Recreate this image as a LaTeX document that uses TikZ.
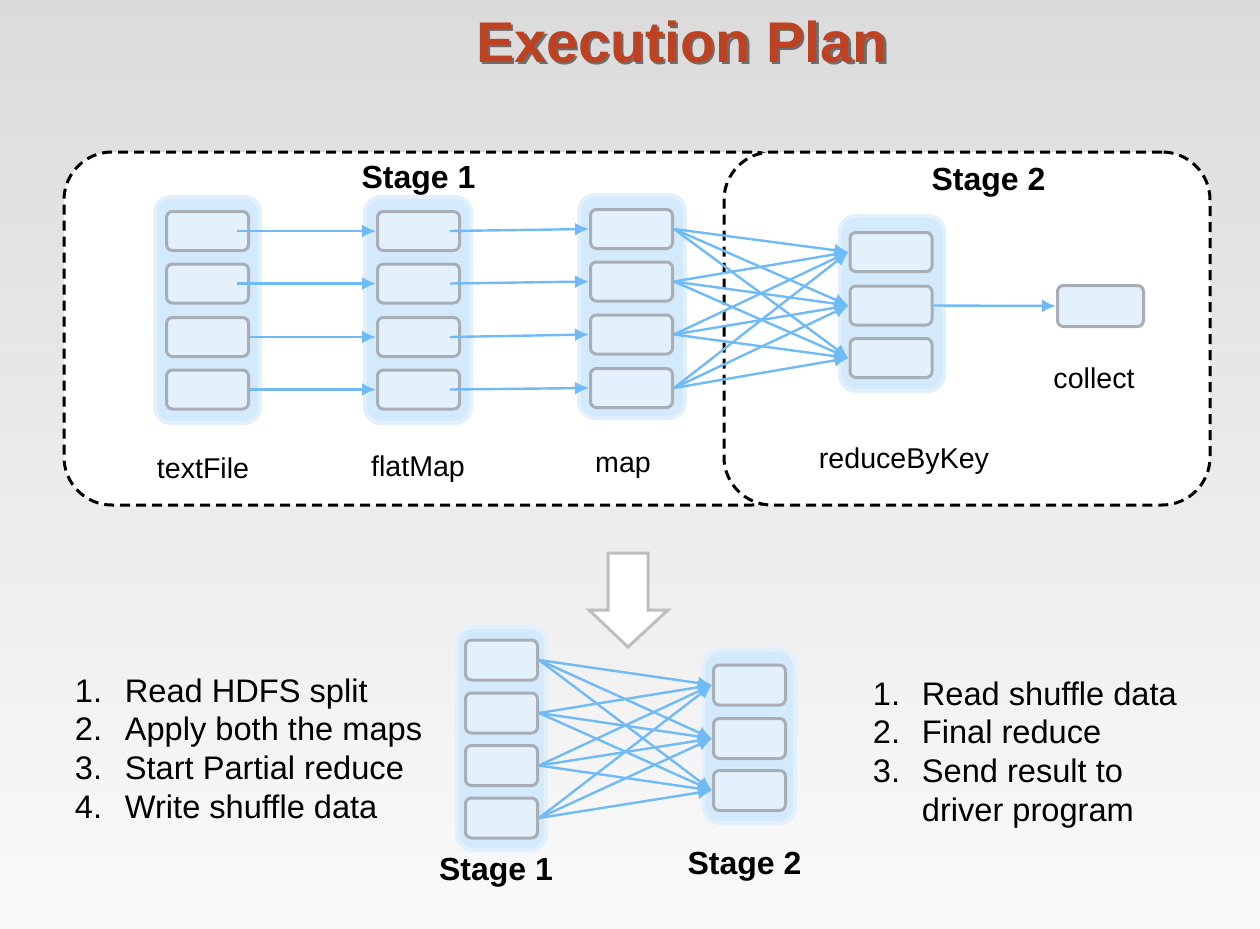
\documentclass[tikz,border=0pt]{standalone}
\usepackage{fontspec}
\setmainfont{Liberation Sans}
\usetikzlibrary{positioning,shapes,arrows.meta,calc}
\definecolor{bgtop}{RGB}{219,219,219}
\definecolor{bgbot}{RGB}{250,250,250}
\definecolor{titlered}{RGB}{190,65,33}
\definecolor{cellgray}{RGB}{168,174,180}
\definecolor{cellblue}{RGB}{227,241,253}
\definecolor{laneblue}{RGB}{211,233,252}
\definecolor{laneedge}{RGB}{226,240,253}
\definecolor{flowblue}{RGB}{112,186,246}
\definecolor{bigarrowgray}{RGB}{190,190,190}
\tikzstyle{cell} = [draw=cellgray, fill=cellblue, line width=1.5pt,
    rounded corners=3pt, minimum width=41pt, minimum height=19.5pt, inner sep=0pt]
\tikzstyle{smallcell} = [cell, minimum width=36pt, minimum height=20pt]
\tikzstyle{lane} = [draw=laneedge, fill=laneblue, line width=2pt,
    rounded corners=8pt, inner sep=0pt]
\tikzstyle{stagebox} = [draw=black, fill=white, line width=1.5pt,
    dash pattern=on 5pt off 3pt, rounded corners=24pt, inner sep=0pt]
\tikzstyle{flow} = [draw=flowblue, line width=1.2pt, -{Latex[length=7pt,width=6.5pt]}]
\tikzstyle{opname} = [font=\fontsize{14.3}{17}\selectfont, inner sep=0pt, anchor=base]
\tikzstyle{stagename} = [font=\fontsize{16}{19}\selectfont\bfseries, inner sep=0pt, anchor=base]
\tikzstyle{steps} = [font=\fontsize{16.3}{19.4}\selectfont, inner sep=0pt, anchor=base west]

\begin{document}
\begin{tikzpicture}[x=0.5pt, y=-0.5pt]
% background
\shade[top color=bgtop, bottom color=bgbot] (0,0) rectangle (1260,928);

% title
\node[font=\fontsize{28.7}{32}\selectfont\bfseries, text=black, opacity=0.5,
    inner sep=0pt, anchor=base] (titleshadow) at (684.5,64.5) {Execution Plan};
\node[font=\fontsize{28.7}{32}\selectfont\bfseries, text=titlered,
    inner sep=0pt, anchor=base] (title) at (682,62) {Execution Plan};

% stage frames
\node[stagebox, minimum width=368pt, minimum height=176.5pt] (stageone) at (432,328.5) {};
\node[stagebox, minimum width=243pt, minimum height=176.5pt] (stagetwo) at (967,328.5) {};
\node[stagename] (stageonename) at (418.5,188) {Stage 1};
\node[stagename] (stagetwoname) at (988.5,190) {Stage 2};

% lanes
\node[lane, minimum width=52.5pt, minimum height=113pt] (tflane) at (207.5,310) {};
\node[lane, minimum width=53pt, minimum height=113pt] (fmlane) at (418,310) {};
\node[lane, minimum width=53pt, minimum height=111.5pt] (mplane) at (632,306.5) {};
\node[lane, minimum width=52pt, minimum height=87.5pt] (rklane) at (892,303.5) {};

% partitions
\foreach \n/\y in {1/231,2/283.5,3/337,4/389.5} {
    \node[cell] (tf\n) at (207.5,\y) {};
    \node[cell] (fm\n) at (418.5,\y) {};
}
\foreach \n/\y in {1/229,2/281.5,3/334.5,4/388}
    \node[cell] (mp\n) at (631.5,\y) {};
\foreach \n/\y in {1/252,2/305.5,3/358}
    \node[cell] (rk\n) at (891,\y) {};
\node[cell, minimum width=43pt, minimum height=20.5pt] (cl) at (1100.5,306) {};

% dependencies
\draw[flow] ([xshift=-6.5pt]tf1.east) -- (fm1.west);
\draw[flow] ([xshift=-6.5pt]tf2.east) -- (fm2.west);
\draw[flow] (tf3.east) -- (fm3.west);
\draw[flow] (tf4.east) -- (fm4.west);
\foreach \n in {1,...,4}
    \draw[flow] ([xshift=-5.5pt]fm\n.east) -- (mp\n.west);
\foreach \m in {1,...,4}
    \foreach \r in {1,2,3}
        \draw[flow] (mp\m.east) -- (rk\r.west);
\draw[flow] (rk2.east) -- (cl.west);

% operation names
\node[opname] (tfname) at (203,478) {textFile};
\node[opname] (fmname) at (418,476) {flatMap};
\node[opname] (mpname) at (623,472) {map};
\node[opname] (rkname) at (904,468) {reduceByKey};
\node[opname] (clname) at (1094,388) {collect};

% big arrow
\draw[draw=bigarrowgray, fill=white, line width=1.5pt, line join=miter]
    (608,553) -- (648,553) -- (648,610) -- (668,610) -- (628,647)
    -- (589,610) -- (608,610) -- cycle;

% compact plan
\node[lane, minimum width=44.5pt, minimum height=111.5pt] (sonelane) at (501.5,738.5) {};
\node[lane, minimum width=45.5pt, minimum height=86.5pt] (stwolane) at (749.5,736.5) {};
\foreach \n/\y in {1/660,2/713,3/765.5,4/818}
    \node[smallcell] (so\n) at (501.5,\y) {};
\foreach \n/\y in {1/685,2/738.5,3/790.5}
    \node[smallcell] (st\n) at (749.5,\y) {};
\foreach \m in {1,...,4}
    \foreach \r in {1,2,3}
        \draw[flow] (so\m.east) -- (st\r.west);
\node[stagename] (sonename) at (496,880.5) {Stage 1};
\node[stagename] (stwoname) at (744.5,874) {Stage 2};

% steps
\node[steps] (onesteps) at (74.5,702) {\begin{tabular}[t]{@{}p{25pt}@{}l@{}}
1. & Read HDFS split\\
2. & Apply both the maps\\
3. & Start Partial reduce\\
4. & Write shuffle data
\end{tabular}};
\node[steps] (twosteps) at (872.5,705) {\begin{tabular}[t]{@{}p{24.5pt}@{}l@{}}
1. & Read shuffle data\\
2. & Final reduce\\
3. & Send result to\\
   & driver program
\end{tabular}};
\end{tikzpicture}
\end{document}
